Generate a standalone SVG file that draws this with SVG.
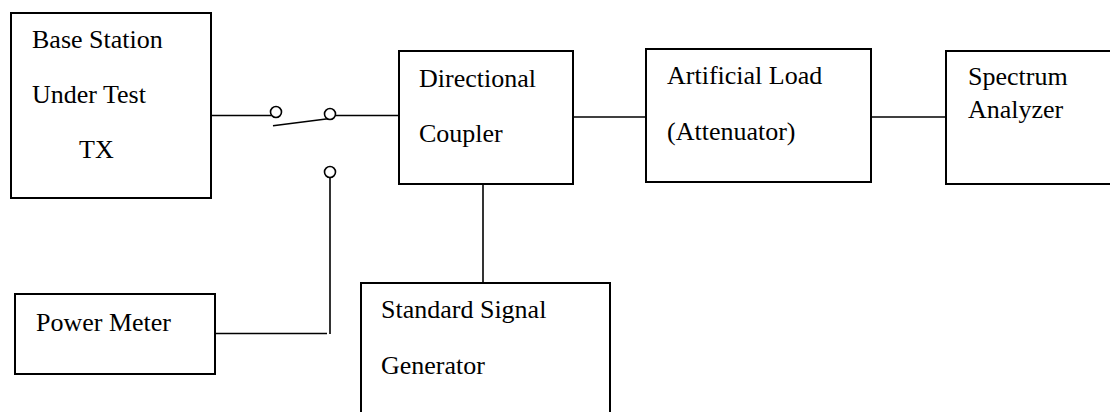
<svg xmlns="http://www.w3.org/2000/svg" width="1110" height="412" viewBox="0 0 1110 412">
<style>
.box{fill:#fff;stroke:#000;stroke-width:2}
.ln{fill:none;stroke:#000;stroke-width:1.6}
.term{fill:#fff;stroke:#000;stroke-width:1.6}
.t{font-family:"Times New Roman","Liberation Serif",Tinos,"DejaVu Serif","Noto Serif",Times,serif;font-size:26px;fill:#000}
</style>
<rect width="1110" height="412" fill="#fff"/>
<g id="connectors">
<line class="ln" x1="211" y1="115.5" x2="271" y2="115.5"/>
<line class="ln" x1="335" y1="115.5" x2="400" y2="115.5"/>
<line class="ln" x1="273" y1="125.7" x2="332" y2="118.2"/>
<line class="ln" x1="330" y1="177" x2="330" y2="334"/>
<line class="ln" x1="213" y1="333.5" x2="327" y2="333.5"/>
<line class="ln" x1="573" y1="117" x2="646" y2="117"/>
<line class="ln" x1="871" y1="117" x2="946" y2="117"/>
<line class="ln" x1="483" y1="184" x2="483" y2="283"/>
<circle class="term" cx="276" cy="112" r="5.5"/>
<circle class="term" cx="330" cy="114" r="5.5"/>
<circle class="term" cx="330" cy="172" r="5.5"/>
</g>
<g id="base-station">
<rect class="box" x="11" y="13" width="200" height="185"/>
<text class="t" x="32" y="48">Base Station</text>
<text class="t" x="32" y="103">Under Test</text>
<text class="t" x="79" y="158">TX</text>
</g>
<g id="directional-coupler">
<rect class="box" x="399" y="51" width="174" height="133"/>
<text class="t" x="419" y="87">Directional</text>
<text class="t" x="419" y="142">Coupler</text>
</g>
<g id="artificial-load">
<rect class="box" x="646" y="49" width="225" height="133"/>
<text class="t" x="667" y="84">Artificial Load</text>
<text class="t" x="667" y="140">(Attenuator)</text>
</g>
<g id="spectrum-analyzer">
<rect class="box" x="946" y="51" width="180" height="133"/>
<text class="t" x="968" y="85">Spectrum</text>
<text class="t" x="968" y="118">Analyzer</text>
</g>
<g id="power-meter">
<rect class="box" x="15" y="294" width="200" height="80"/>
<text class="t" x="36" y="331">Power Meter</text>
</g>
<g id="signal-generator">
<rect class="box" x="361" y="283" width="249" height="150"/>
<text class="t" x="381" y="318">Standard Signal</text>
<text class="t" x="381" y="374">Generator</text>
</g>
</svg>
